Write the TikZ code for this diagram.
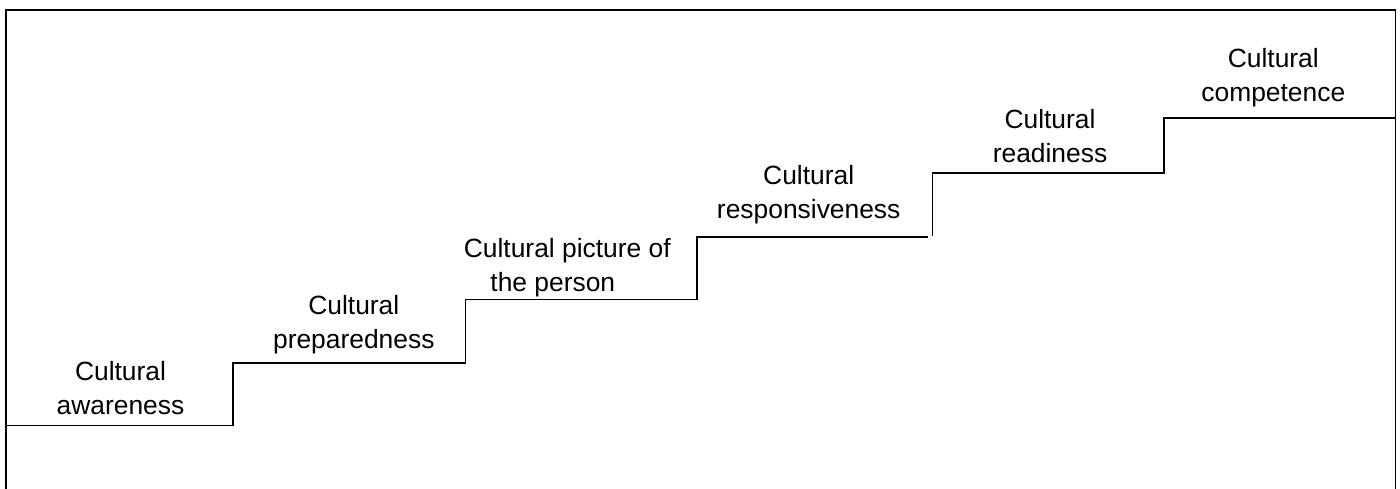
\documentclass[tikz,border=0pt]{standalone}
\usepackage{fontspec}
\setmainfont{Liberation Sans}
\begin{document}
\begin{tikzpicture}[x=0.5pt,y=-0.5pt,
  frameline/.style={line width=0.9pt},
  stairline/.style={line width=0.7pt},
  steplabel/.style={anchor=base,inner sep=0pt,align=center,
    font=\fontsize{13.2pt}{17pt}\selectfont}]
\useasboundingbox (0,0) rectangle (1400,488);
% frame (bottom edge is outside the picture)
\draw[frameline] (6,495) -- (6,10) -- (1395.5,10) -- (1395.5,495);
% stairs
\coordinate (a0) at (6,425.5);
\coordinate (a1) at (233,425.5);
\coordinate (b0) at (233,363);
\coordinate (b1) at (465.5,363);
\coordinate (c0) at (465.5,299.5);
\coordinate (c1) at (697,299.5);
\coordinate (d0) at (697,237);
\coordinate (d1) at (928,237);
\coordinate (e00) at (932.5,236);
\coordinate (e0) at (932.5,173);
\coordinate (e1) at (1164,173);
\coordinate (f0) at (1164,118);
\coordinate (f1) at (1395.5,118);
\draw[stairline] (a0) -- (a1) -- (b0) -- (b1) -- (c0) -- (c1) -- (d0) -- (d1);
\draw[stairline] (e00) -- (e0) -- (e1) -- (f0) -- (f1);
% labels (base anchor = baseline of the last line)
\node[steplabel] (awareness) at (120.5,414) {Cultural\\awareness};
\node[steplabel] (preparedness) at (353.8,348) {Cultural\\preparedness};
\node[steplabel] (picture) at (567.3,291.5) {Cultural picture of\\the person\hspace*{14.5pt}};
\node[steplabel] (responsiveness) at (808.7,218.5) {Cultural\\responsiveness};
\node[steplabel] (readiness) at (1050,162.5) {Cultural\\readiness};
\node[steplabel] (competence) at (1273.3,101) {Cultural\\competence};
\end{tikzpicture}
\end{document}
